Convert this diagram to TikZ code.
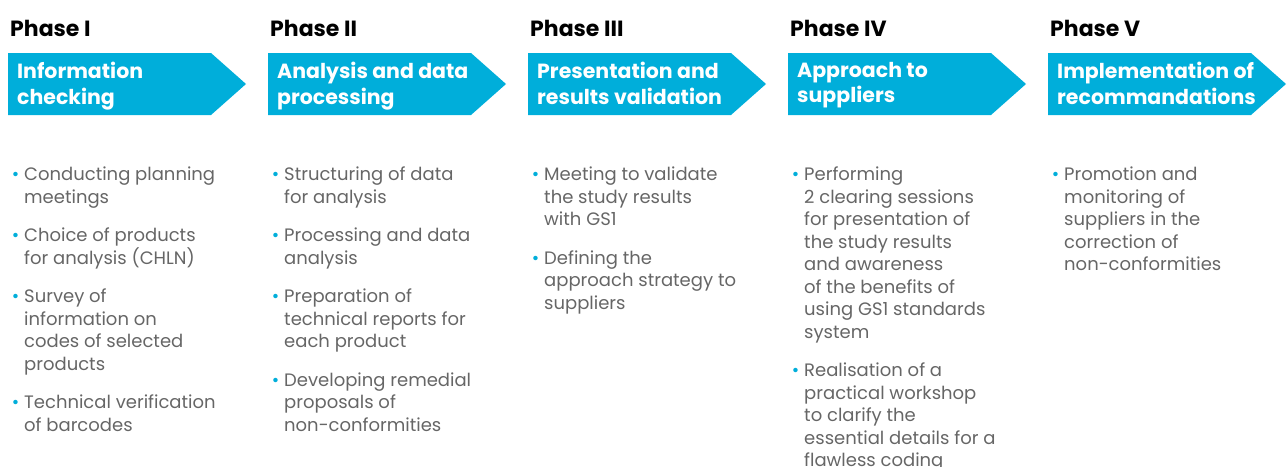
\documentclass[tikz,border=0pt]{standalone}
\usepackage{fontspec}
\setmainfont{Poppins}
\usetikzlibrary{positioning}
\definecolor{gsblue}{HTML}{00AEDA}
\definecolor{txtgray}{HTML}{666666}
\newcommand{\itm}{\llap{\textcolor{gsblue}{\textbullet}\hspace{5pt}}}
\tikzset{
  phase/.style={anchor=base west, inner sep=0pt, font=\bfseries\fontsize{22}{25}\selectfont},
  banner/.style={fill=gsblue},
  bannertext/.style={anchor=north west, inner sep=0pt, align=left, text=white,
    font=\bfseries\fontsize{20.5}{25.5}\selectfont, execute at begin node=\strut},
  itemlist/.style={anchor=north west, inner sep=0pt, align=left, text=txtgray,
    font=\fontsize{18}{22.5}\selectfont, execute at begin node=\strut},
}
\begin{document}
\begin{tikzpicture}[x=1pt,y=-1pt]
  \useasboundingbox (0,0) rectangle (1287,466);
  % banners
  \foreach \c in {0,...,4}
    \fill[banner] (8+\c*260,53) -- ++(203,0) -- ++(35,31) -- ++(-35,31) -- ++(-203,0) -- cycle;
  % Phase I
  \node[phase] (ph1) at (10,36) {Phase I};
  \node[bannertext] (bt1) at (17,62) {Information\\checking};
  \node[itemlist] (list1) at (24,167) {\itm Conducting planning\\meetings\\[16pt]
    \itm Choice of products\\for analysis (CHLN)\\[16pt]
    \itm Survey of\\information on\\codes of selected\\products\\[16pt]
    \itm Technical verification\\of barcodes};
  % Phase II
  \node[phase] (ph2) at (270,36) {Phase II};
  \node[bannertext] (bt2) at (277,62) {Analysis and data\\processing};
  \node[itemlist] (list2) at (284,167) {\itm Structuring of data\\for analysis\\[16pt]
    \itm Processing and data\\analysis\\[16pt]
    \itm Preparation of\\technical reports for\\each product\\[16pt]
    \itm Developing remedial\\proposals of\\non-conformities};
  % Phase III
  \node[phase] (ph3) at (530,36) {Phase III};
  \node[bannertext] (bt3) at (537,62) {Presentation and\\results validation};
  \node[itemlist] (list3) at (544,167) {\itm Meeting to validate\\the study results\\with GS1\\[16pt]
    \itm Defining the\\approach strategy to\\suppliers};
  % Phase IV
  \node[phase] (ph4) at (790,36) {Phase IV};
  \node[bannertext] (bt4) at (797,62) {Approach to\\suppliers};
  \node[itemlist] (list4) at (804,167) {\itm Performing\\2 clearing sessions\\for presentation of\\the study results\\and awareness\\of the benefits of\\using GS1 standards\\system\\[16pt]
    \itm Realisation of a\\practical workshop\\to clarify the\\essential details for a\\flawless coding};
  % Phase V
  \node[phase] (ph5) at (1050,36) {Phase V};
  \node[bannertext] (bt5) at (1057,62) {Implementation of\\recommandations};
  \node[itemlist] (list5) at (1064,167) {\itm Promotion and\\monitoring of\\suppliers in the\\correction of\\non-conformities};
\end{tikzpicture}
\end{document}
